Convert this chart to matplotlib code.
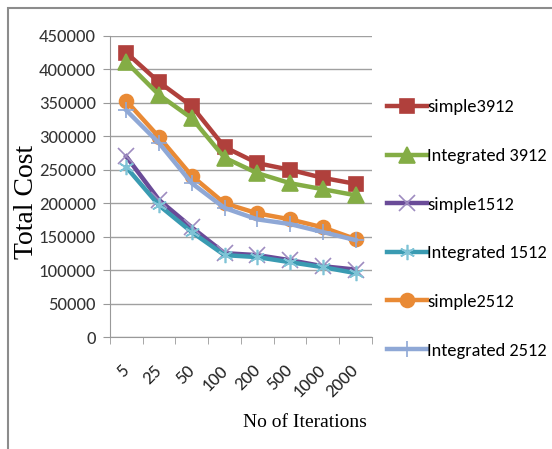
import matplotlib.pyplot as plt
from matplotlib.patches import Rectangle

iterations = ["5", "25", "50", "100", "200", "500", "1000", "2000"]

simple3912 = [425000, 381000, 345000, 284000, 260000, 250000, 238000, 229000]
integrated3912 = [411000, 362000, 327000, 268000, 245000, 230000, 221000, 212000]
simple1512 = [270000, 205000, 164000, 125500, 122600, 115000, 106000, 101000]
integrated1512 = [254000, 197000, 157000, 122600, 119600, 112000, 104600, 95700]
simple2512 = [353000, 299000, 241000, 200000, 185000, 176000, 164000, 146500]
integrated2512 = [339000, 290000, 230000, 193000, 176000, 169000, 157000, 145000]

series = [
    ("simple3912", simple3912, "#B0403C", "s", "#B0403C"),
    ("Integrated 3912", integrated3912, "#84AD45", "^", "#84AD45"),
    ("simple1512", simple1512, "#6A4B98", "x", "#9E8CC0"),
    ("Integrated 1512", integrated1512, "#3A9BB2", (6, 2, 0), "#7FC3D6"),
    ("simple2512", simple2512, "#E98A35", "o", "#E98A35"),
    ("Integrated 2512", integrated2512, "#8FA8D6", "+", "#8FA8D6"),
]

fig = plt.figure(figsize=(5.52, 4.49), dpi=100)
ax = fig.add_axes([0.199, 0.249, 0.475, 0.671])

x = list(range(len(iterations)))
for name, vals, col, mk, mcol in series:
    ms = 10 if mk in ("s", "o") else 11
    ax.plot(x, vals, color=col, lw=3.2, marker=mk, markersize=ms,
            markerfacecolor=mcol, markeredgecolor=mcol, markeredgewidth=1.2,
            label=name)

ax.set_xlim(-0.5, 7.5)
ax.set_ylim(0, 450000)
ax.set_yticks(range(0, 450001, 50000))
ax.set_yticklabels([str(v) for v in range(0, 450001, 50000)],
                   family="Carlito", fontsize=13.5, color="#333333")
ax.set_xticks(x)
ax.set_xticklabels(iterations, rotation=45, ha="right", va="center",
                   rotation_mode="anchor", family="Carlito", fontsize=13.5,
                   color="#222222")
ax.set_xticks([i - 0.5 for i in range(len(iterations) + 1)], minor=True)
ax.tick_params(axis="x", which="major", length=0, pad=22)
ax.tick_params(axis="x", which="minor", length=5, color="#999999")
ax.tick_params(axis="y", length=5, color="#999999", pad=5)
ax.grid(axis="y", color="#A0A0A0", lw=1)
ax.set_axisbelow(True)
for s in ("top", "right"):
    ax.spines[s].set_visible(False)
for s in ("left", "bottom"):
    ax.spines[s].set_color("#999999")

ax.set_ylabel("Total Cost", family="Liberation Serif", fontsize=20, va="center")
ax.yaxis.set_label_coords(-0.317, 0.45)
ax.set_xlabel("No of Iterations", family="Liberation Serif", fontsize=14, va="center")
ax.xaxis.set_label_coords(0.745, -0.282)

ax.legend(loc="upper left", bbox_to_anchor=(0.688, 0.795), bbox_transform=fig.transFigure,
          frameon=False, prop={"family": "Carlito", "size": 13.2}, labelspacing=1.78,
          handlelength=2.15, handletextpad=0.05, borderaxespad=0)

fig.add_artist(Rectangle((8 / 552, -0.1), 1.2, (449 - 8) / 449 + 0.1,
                         transform=fig.transFigure, fill=False,
                         edgecolor="#8C8C8C", lw=1.5))

fig.savefig("out.png", dpi=100)
